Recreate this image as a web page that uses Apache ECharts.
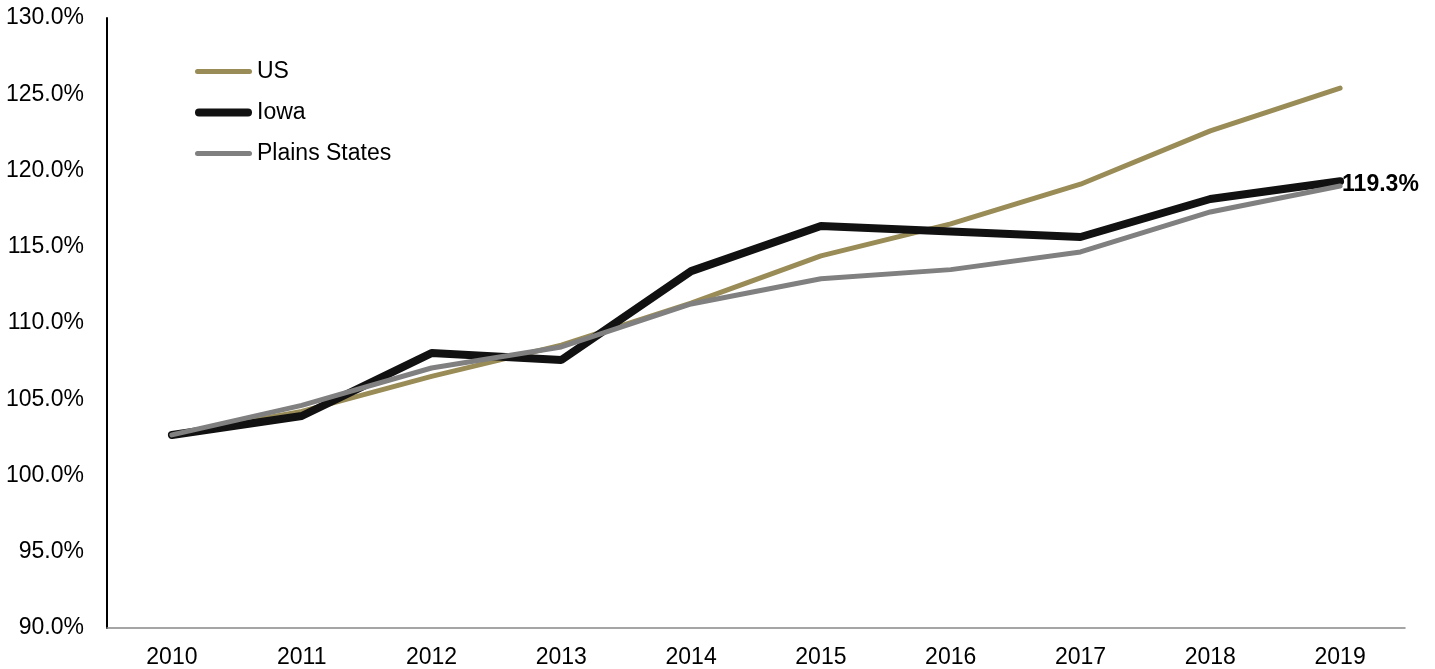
<!DOCTYPE html>
<html>
<head>
<meta charset="utf-8">
<script src="https://cdn.jsdelivr.net/npm/echarts@6/dist/echarts.min.js"></script>
<style>html,body{margin:0;padding:0;background:#fff;}#c{width:1435px;height:669px;}</style>
</head>
<body>
<div id="c"></div>
<script>
var years = ['2010','2011','2012','2013','2014','2015','2016','2017','2018','2019'];
var usValues = [102.66, 104.2, 106.5, 108.55, 111.3, 114.4, 116.5, 119.1, 122.6, 125.4];
var iowaValues = [102.66, 103.9, 108.03, 107.57, 113.4, 116.36, 116.0, 115.64, 118.13, 119.3];
var plainsValues = [102.66, 104.6, 107.05, 108.43, 111.25, 112.9, 113.5, 114.66, 117.28, 118.98];
var seriesNames = ['US', 'Iowa', 'Plains States'];

var chart = echarts.init(document.getElementById('c'));
var font = 'Liberation Sans, Arial, sans-serif';
var thinIcon = 'path://M2.5,0 L54.5,0 A2.5,2.5 0 0 1 54.5,5 L2.5,5 A2.5,2.5 0 0 1 2.5,0 Z';
var thickIcon = 'path://M4,0 L53,0 A4,4 0 0 1 53,8 L4,8 A4,4 0 0 1 4,0 Z';
chart.setOption({
  animation: false,
  backgroundColor: '#fff',
  grid: {left: 107, right: 30, top: 18, bottom: 41, containLabel: false},
  legend: {
    orient: 'vertical',
    left: 190, top: 55,
    itemWidth: 57, itemHeight: 14, itemGap: 18,
    textStyle: {fontFamily: font, fontSize: 23, color: '#000'},
    data: [
      {name: seriesNames[0], icon: thinIcon},
      {name: seriesNames[1], icon: thickIcon},
      {name: seriesNames[2], icon: thinIcon}
    ]
  },
  xAxis: {
    type: 'category',
    data: years,
    boundaryGap: true,
    axisLine: {lineStyle: {color: '#888', width: 1.5}},
    axisTick: {show: false},
    axisLabel: {fontFamily: font, fontSize: 23, color: '#000', margin: 18}
  },
  yAxis: {
    type: 'value',
    min: 90, max: 130, interval: 5,
    axisLine: {show: true, lineStyle: {color: '#000', width: 2}},
    axisTick: {show: false},
    splitLine: {show: false},
    axisLabel: {fontFamily: font, fontSize: 23, color: '#000', margin: 23,
      formatter: function(v){ return v.toFixed(1) + '%'; }}
  },
  series: [
    {name: seriesNames[0], type: 'line', data: usValues, symbol: 'none',
     lineStyle: {color: '#9a8c57', width: 5, cap: 'round'}, itemStyle: {color: '#9a8c57'}, z: 2},
    {name: seriesNames[1], type: 'line', data: iowaValues, symbol: 'none',
     lineStyle: {color: '#111', width: 8, cap: 'round'}, itemStyle: {color: '#111'}, z: 3,
     endLabel: {show: true, distance: 2, offset: [0, 3], fontFamily: font, fontSize: 23, fontWeight: 'bold', color: '#000',
       formatter: function(p){ return p.value.toFixed(1) + '%'; }}},
    {name: seriesNames[2], type: 'line', data: plainsValues, symbol: 'none',
     lineStyle: {color: '#808080', width: 5, cap: 'round'}, itemStyle: {color: '#808080'}, z: 4}
  ]
});
</script>
</body>
</html>
